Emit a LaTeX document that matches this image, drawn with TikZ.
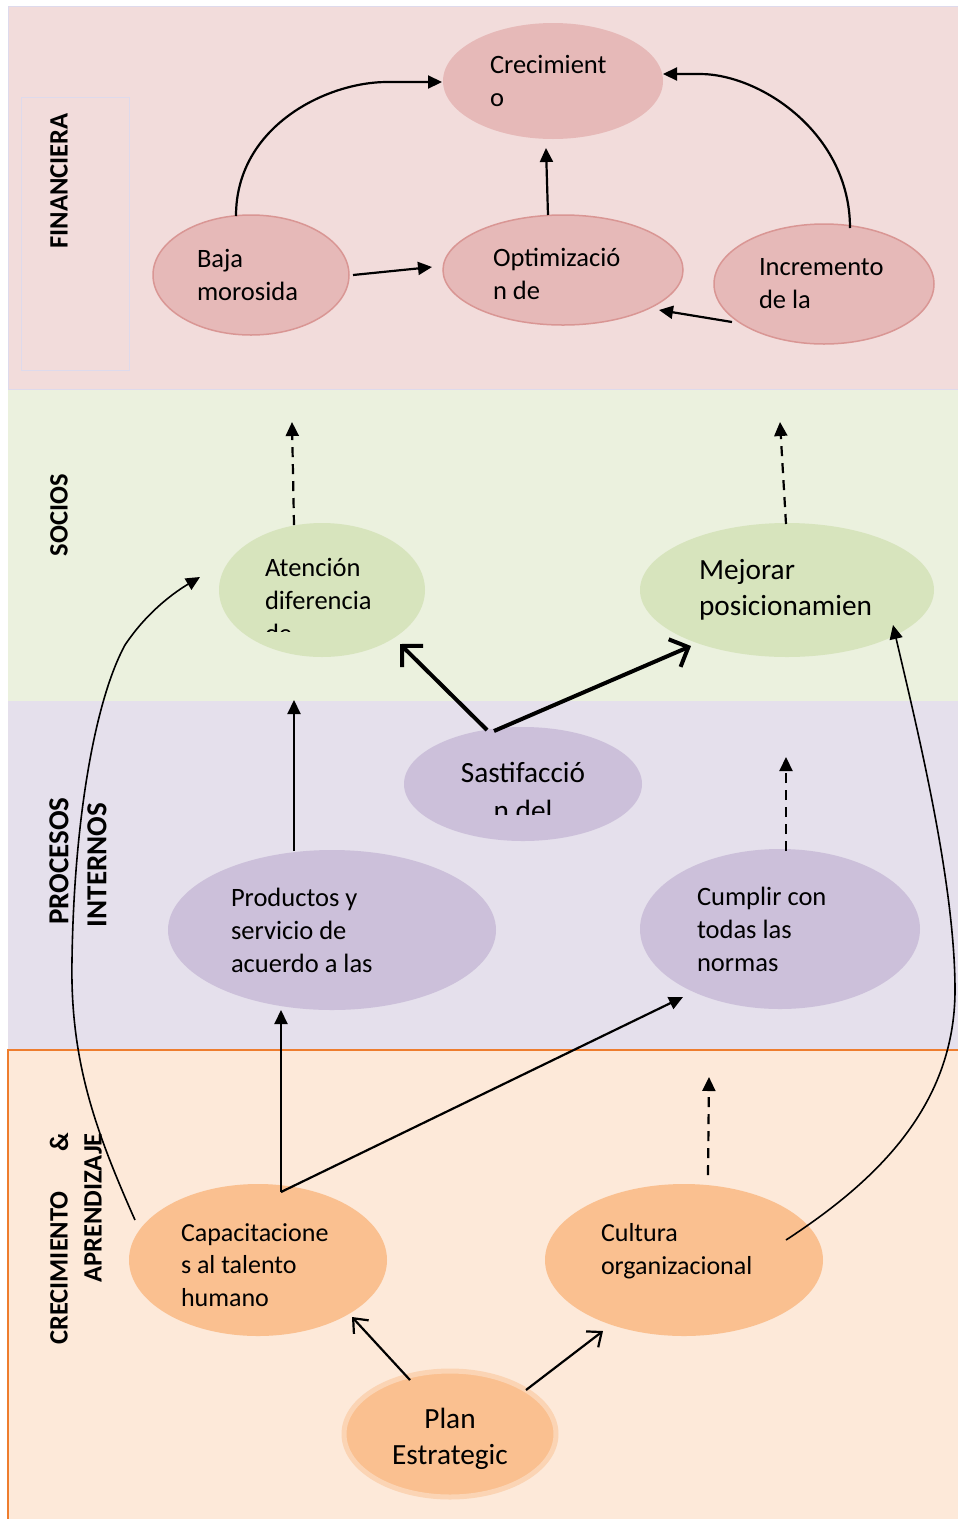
\documentclass[tikz,border=0pt]{standalone}
\usepackage{fontspec}
\setmainfont{Carlito}
\usetikzlibrary{shapes.geometric,arrows.meta,calc}

\definecolor{finbg}{HTML}{F2DCDB}
\definecolor{finnode}{HTML}{E6B9B8}
\definecolor{finline}{HTML}{D99694}
\definecolor{socbg}{HTML}{EBF1DE}
\definecolor{socnode}{HTML}{D7E4BD}
\definecolor{probg}{HTML}{E5E0EC}
\definecolor{pronode}{HTML}{CCC0DA}
\definecolor{crebg}{HTML}{FDE9D9}
\definecolor{crenode}{HTML}{FAC090}
\definecolor{creedge}{HTML}{EE7D2E}
\definecolor{planring}{HTML}{FBD4B4}
\definecolor{bandline}{HTML}{DEDAEC}

\tikzset{
  oval/.style={ellipse, inner sep=0pt, outer sep=0pt, align=flush left},
  body/.style={font=\fontsize{26.5pt}{33pt}\selectfont},
  big/.style={font=\fontsize{29.3pt}{36pt}\selectfont},
  finoval/.style={oval, body, fill=finnode, draw=finline, line width=1.5pt},
  socoval/.style={oval, fill=socnode},
  prooval/.style={oval, fill=pronode},
  creoval/.style={oval, fill=crenode, font=\fontsize{26pt}{32.5pt}\selectfont},
  lab/.style={rotate=90, inner sep=0pt, font=\bfseries\fontsize{26.5pt}{32pt}\selectfont},
  labbig/.style={lab, font=\bfseries\fontsize{29pt}{35pt}\selectfont},
  arr/.style={line width=2.2pt, -{Triangle[length=14pt,width=13pt]}},
  thinarr/.style={line width=1.6pt, -{Triangle[length=14pt,width=13pt]}},
  dashedarr/.style={arr, dash pattern=on 10pt off 7pt},
  heavyarr/.style={line width=4pt, -{Straight Barb[length=15pt,width=30pt]}},
  openarr/.style={line width=2.2pt, -{Straight Barb[length=12pt,width=20pt]}},
}

\begin{document}
\begin{tikzpicture}[x=1pt, y=-1pt]
\useasboundingbox (0,0) rectangle (958,1519);
\fill[white] (0,0) rectangle (958,1519);

% perspective bands
\fill[finbg] (8,6) rectangle (958,389);
\fill[socbg] (8,389) rectangle (958,701);
\fill[probg] (8,701) rectangle (958,1050);
\fill[crebg] (8,1050) rectangle (958,1519);
\draw[bandline, line width=1pt] (8,6) rectangle (958,389);
\draw[bandline, line width=1pt] (21.5,97) rectangle (129,370);
\draw[creedge, line width=2pt] (958,1050) -- (8,1050) -- (8,1519);

% band titles
\node[lab] (lfin) at (59,181) {FINANCIERA};
\node[lab] (lsoc) at (59,515) {SOCIOS};
\node[labbig] (lpro) at (59,861) {PROCESOS};
\node[labbig] (lint) at (97,865) {INTERNOS};
\node[lab] (lcre) at (59,1268) {CRECIMIENTO};
\node[lab] (lamp) at (59,1142) {\&};
\node[lab] (lapr) at (93,1208) {APRENDIZAJE};

% financial objectives
\node[finoval, draw=none, minimum width=220pt, minimum height=116pt, text width=126pt] (crec) at (553,81) {Crecimient\\o};
\node[finoval, minimum width=196pt, minimum height=120pt, text width=108pt] (baja) at (251,275) {Baja\\morosida};
\node[finoval, minimum width=240pt, minimum height=110pt, text width=140pt] (opt) at (563,270) {\rule{0pt}{27pt}Optimizació\\n de};
\node[finoval, minimum width=220pt, minimum height=120pt, text width=130pt] (inc) at (824,284) {Incremento\\de la};

% partner objectives
\node[socoval, minimum width=206pt, minimum height=134pt] (aten) at (322,590) {};
\begin{scope}
  \clip (219,523) rectangle (425,631);
  \node[oval, body, text width=114pt] (atentxt) at (322,600) {Atención\\diferencia\\de};
\end{scope}
\node[socoval, big, minimum width=294pt, minimum height=134pt, text width=176pt] (mej) at (787,590) {Mejorar\\posicionamien};

% internal processes
\node[prooval, minimum width=238pt, minimum height=114pt] (sast) at (523,784) {};
\begin{scope}
  \clip (404,727) rectangle (642,814);
  \node[oval, align=flush center, font=\fontsize{29.3pt}{38pt}\selectfont] (sasttxt) at (523,791) {Sastifacció\\n del};
\end{scope}
\node[prooval, body, minimum width=328pt, minimum height=160pt, text width=202pt] (prod) at (332,930) {Productos y\\servicio de\\acuerdo a las};
\node[prooval, body, minimum width=280pt, minimum height=160pt, text width=166pt] (cump) at (780,929) {Cumplir con\\todas las\\normas};

% growth and learning
\node[creoval, minimum width=258pt, minimum height=152pt, text width=154pt] (cap) at (258,1260) {\rule{0pt}{28pt}Capacitacione\\s al talento\\humano};
\node[creoval, minimum width=278pt, minimum height=152pt, text width=166pt] (cult) at (684,1260) {Cultura\\organizacional\\[-10pt]\mbox{}};
\node[oval, big, align=flush center, fill=crenode, draw=planring, line width=5pt, minimum width=212pt, minimum height=126pt] (plan) at (450,1434) {\rule{0pt}{29.5pt}Plan\\Estrategic};

% free arrow ends
\coordinate (atenup) at (292,422);
\coordinate (mejup) at (780,422);
\coordinate (cumpup) at (786,757);
\coordinate (cultup) at (709,1077);

% financial links
\draw[arr] ($(baja.north)+(-15,1)$) .. controls +(0,-90) and +(-60,0) .. ($(crec.west)+(-56,1)$) -- ($(crec.west)+(-1,1)$);
\draw[arr] ($(inc.north)+(26,4)$) .. controls +(0,-95) and +(60,0) .. ($(crec.east)+(37,-7)$) -- ($(crec.east)+(0,-7)$);
\draw[arr] ($(opt.north)+(-15,0)$) -- ($(crec.south)+(-7,9)$);
\draw[arr] ($(baja.east)+(4,0)$) -- ($(opt.west)+(-11,-3)$);
\draw[arr] ($(inc.center)+(-92,38)$) -- ($(opt.center)+(96,40)$);

% partner links
\draw[dashedarr] ($(aten.north)+(-28,2)$) -- (atenup);
\draw[dashedarr] ($(mej.north)+(-1,1)$) -- (mejup);
\draw[heavyarr] ($(sast.north)+(-36,3)$) -- ($(aten.center)+(78,54)$);
\draw[heavyarr] ($(sast.north)+(-29,4)$) -- ($(mej.center)+(-96,56)$);

% process links
\draw[arr] ($(prod.north)+(-38,1)$) -- ($(aten.south)+(-28,43)$);
\draw[dashedarr] ($(cump.north)+(6,2)$) -- (cumpup);

% growth links
\draw[arr] ($(cap.north)+(23,8)$) -- ($(prod.south)+(-51,0)$);
\draw[arr] ($(cap.north)+(23,8)$) -- ($(cump.center)+(-97,68)$);
\draw[dashedarr] ($(cult.north)+(24,-9)$) -- (cultup);
\draw[thinarr] ($(cap.center)+(-123,-40)$) .. controls (95,1130) and (70,1060) .. (72,960)
  .. controls (74,820) and (95,700) .. (125,645)
  .. controls (145,615) and (170,595) .. ($(aten.west)+(-19,-13)$);
\draw[thinarr] ($(cult.center)+(102,-20)$) .. controls (870,1185) and (955,1110) .. (955,990)
  .. controls (955,880) and (915,720) .. ($(mej.center)+(106,35)$);
\draw[openarr] ($(plan.center)+(-40,-54)$) -- ($(cap.center)+(94,57)$);
\draw[openarr] ($(plan.center)+(76,-44)$) -- ($(cult.center)+(-81,71)$);
\end{tikzpicture}
\end{document}
